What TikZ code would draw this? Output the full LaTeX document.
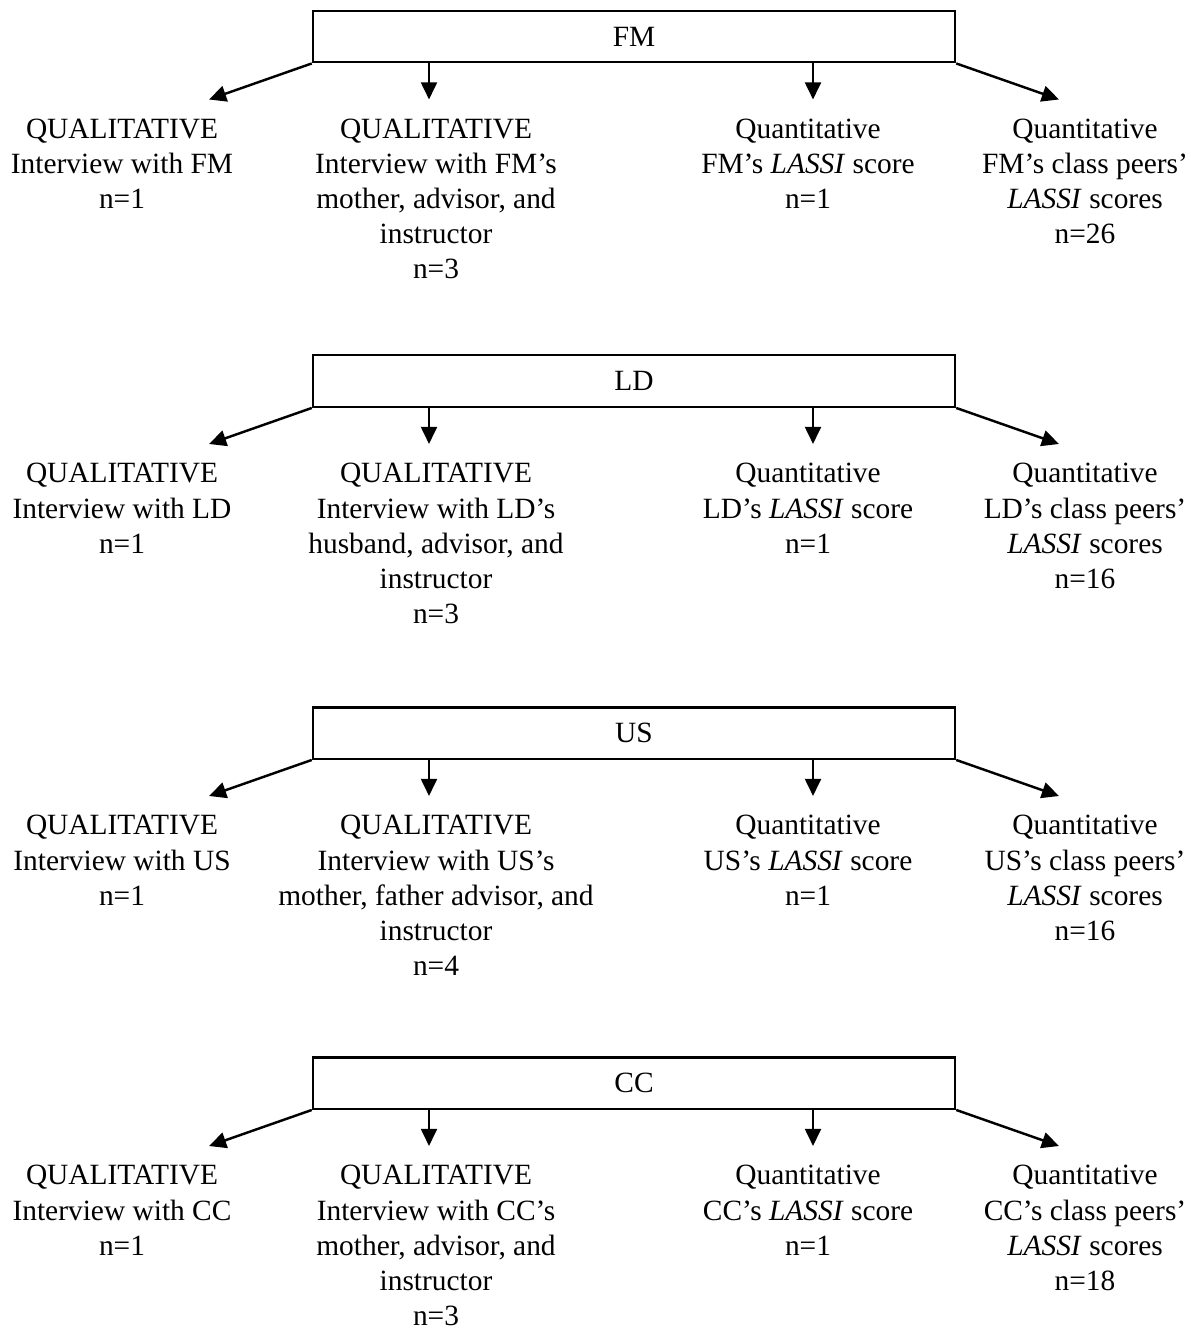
\documentclass[tikz,border=0pt]{standalone}
\usepackage{fontspec}
\setmainfont{Liberation Serif}
\usetikzlibrary{arrows.meta}

\begin{document}
\begin{tikzpicture}[
  x=0.01435cm, y=-0.01435cm,
  group/.style={rectangle, draw, line width=1pt, minimum width=262pt, minimum height=21pt, inner sep=0pt},
  info/.style={align=center, anchor=north, inner sep=0pt},
  link/.style={-{Triangle[length=7pt,width=6.5pt]}, line width=1pt},
  font=\fontsize{12}{14.3}\selectfont
]
\useasboundingbox (0,0) rectangle (1190,1332);

% FM
\node[group] (fm) at (634,36.5) {FM};
\coordinate (fmqualtip) at (209,99.5);
\coordinate (fmreltip) at (429,99.5);
\coordinate (fmscoretip) at (813,99.5);
\coordinate (fmpeertip) at (1059,99.5);
\node[info] (fmqual) at (122,118.5) {QUALITATIVE\\Interview with FM\\n=1};
\node[info] (fmrel) at (436,118.5) {QUALITATIVE\\Interview with FM’s\\mother, advisor, and\\instructor\\n=3};
\node[info] (fmscore) at (808,118.5) {Quantitative\\FM’s \textit{LASSI} score\\n=1};
\node[info] (fmpeer) at (1085,118.5) {Quantitative\\FM’s class peers’\\\textit{LASSI} scores\\n=26};
\draw[link] (fm.south west) -- (fmqualtip);
\draw[link] (fm.south -| fmreltip) -- (fmreltip);
\draw[link] (fm.south -| fmscoretip) -- (fmscoretip);
\draw[link] (fm.south east) -- (fmpeertip);

% LD
\node[group] (ld) at (634,381) {LD};
\coordinate (ldqualtip) at (209,444);
\coordinate (ldreltip) at (429,444);
\coordinate (ldscoretip) at (813,444);
\coordinate (ldpeertip) at (1059,444);
\node[info] (ldqual) at (122,463) {QUALITATIVE\\Interview with LD\\n=1};
\node[info] (ldrel) at (436,463) {QUALITATIVE\\Interview with LD’s\\husband, advisor, and\\instructor\\n=3};
\node[info] (ldscore) at (808,463) {Quantitative\\LD’s \textit{LASSI} score\\n=1};
\node[info] (ldpeer) at (1085,463) {Quantitative\\LD’s class peers’\\\textit{LASSI} scores\\n=16};
\draw[link] (ld.south west) -- (ldqualtip);
\draw[link] (ld.south -| ldreltip) -- (ldreltip);
\draw[link] (ld.south -| ldscoretip) -- (ldscoretip);
\draw[link] (ld.south east) -- (ldpeertip);

% US
\node[group] (us) at (634,733) {US};
\coordinate (usqualtip) at (209,796);
\coordinate (usreltip) at (429,796);
\coordinate (usscoretip) at (813,796);
\coordinate (uspeertip) at (1059,796);
\node[info] (usqual) at (122,815) {QUALITATIVE\\Interview with US\\n=1};
\node[info] (usrel) at (436,815) {QUALITATIVE\\Interview with US’s\\mother, father advisor, and\\instructor\\n=4};
\node[info] (usscore) at (808,815) {Quantitative\\US’s \textit{LASSI} score\\n=1};
\node[info] (uspeer) at (1085,815) {Quantitative\\US’s class peers’\\\textit{LASSI} scores\\n=16};
\draw[link] (us.south west) -- (usqualtip);
\draw[link] (us.south -| usreltip) -- (usreltip);
\draw[link] (us.south -| usscoretip) -- (usscoretip);
\draw[link] (us.south east) -- (uspeertip);

% CC
\node[group] (cc) at (634,1083) {CC};
\coordinate (ccqualtip) at (209,1146);
\coordinate (ccreltip) at (429,1146);
\coordinate (ccscoretip) at (813,1146);
\coordinate (ccpeertip) at (1059,1146);
\node[info] (ccqual) at (122,1165) {QUALITATIVE\\Interview with CC\\n=1};
\node[info] (ccrel) at (436,1165) {QUALITATIVE\\Interview with CC’s\\mother, advisor, and\\instructor\\n=3};
\node[info] (ccscore) at (808,1165) {Quantitative\\CC’s \textit{LASSI} score\\n=1};
\node[info] (ccpeer) at (1085,1165) {Quantitative\\CC’s class peers’\\\textit{LASSI} scores\\n=18};
\draw[link] (cc.south west) -- (ccqualtip);
\draw[link] (cc.south -| ccreltip) -- (ccreltip);
\draw[link] (cc.south -| ccscoretip) -- (ccscoretip);
\draw[link] (cc.south east) -- (ccpeertip);
\end{tikzpicture}
\end{document}
